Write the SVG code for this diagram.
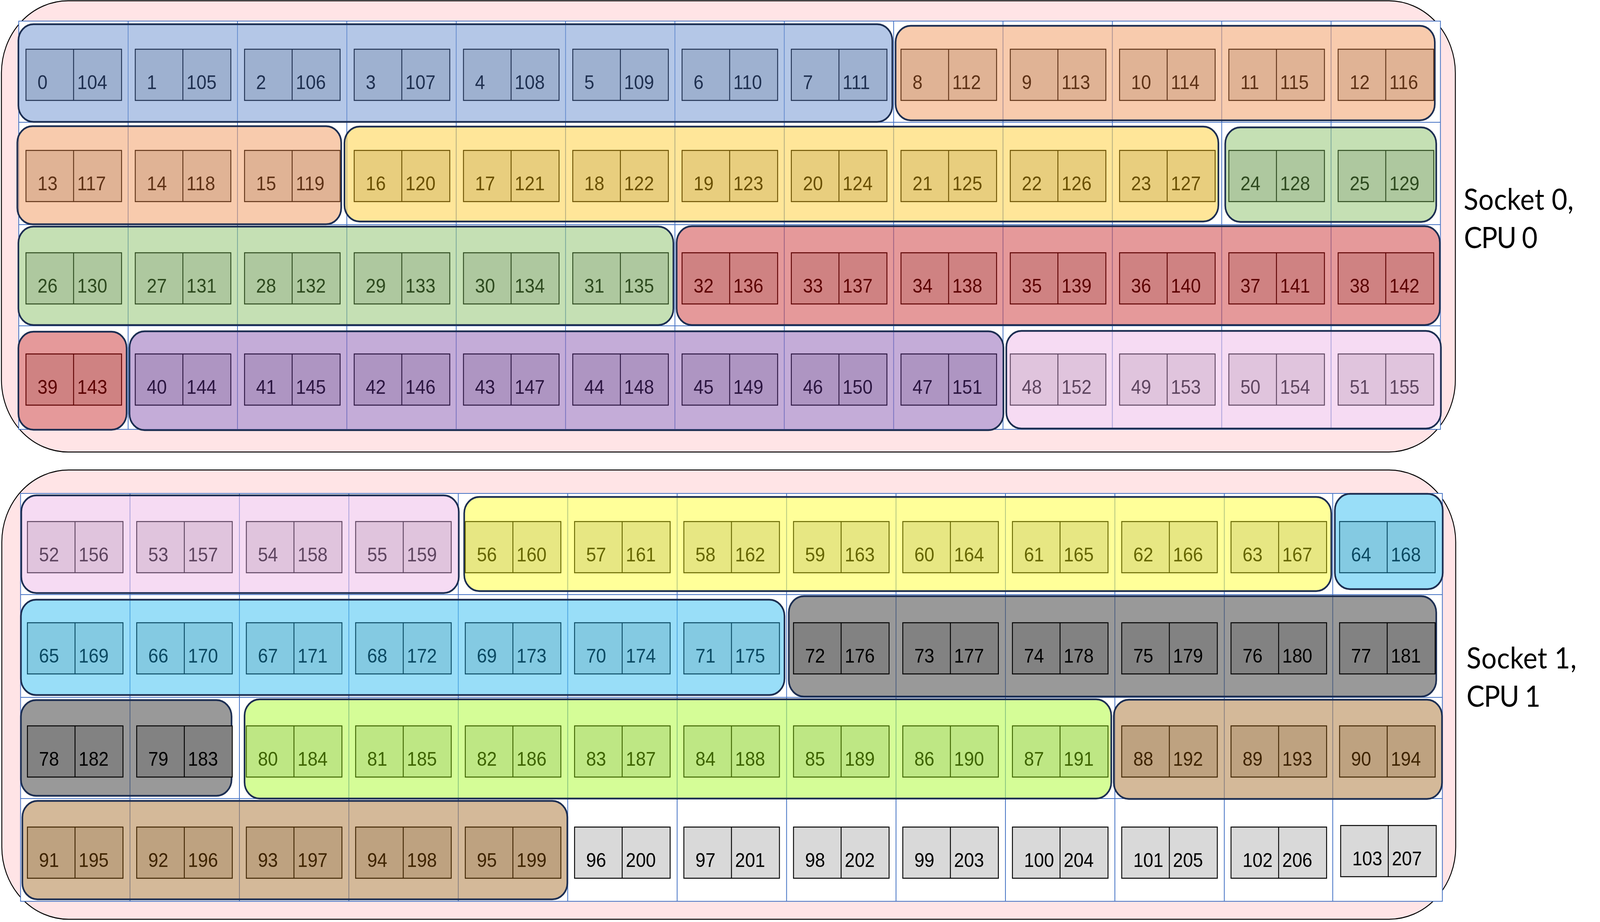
<svg xmlns="http://www.w3.org/2000/svg" xmlns:xlink="http://www.w3.org/1999/xlink" width="4436" height="2360" viewBox="0 0 4436 2360">
<defs>
<g id="bx"><rect width="265" height="131"/><path d="M132 0V131"/></g>
<style>
.sock{fill:#FFE4E6;stroke:#000;stroke-width:2.5}
.tbl{fill:#fff;stroke:none}
.grid{fill:none;stroke:#4472C4;stroke-width:2.2}
.grp{fill-opacity:0.6;stroke:#1C2E52;stroke-width:4.5}
.core use{stroke-width:2.5}
.core text{font-family:"Liberation Sans",Arial,sans-serif;font-size:50px;stroke:none}
.lbl{font-family:Lato,"Open Sans",sans-serif;font-size:75px;fill:#000}
.k-blue .grp{fill:#82A2D7}.k-blue use{fill:#9EB1D0;stroke:#1F3050}.k-blue text{fill:#1F3050}
.k-orange .grp{fill:#F3A876}.k-orange use{fill:#E0B395;stroke:#5E3216}.k-orange text{fill:#5E3216}
.k-yellow .grp{fill:#FFD555}.k-yellow use{fill:#E8CE7E;stroke:#6A5000}.k-yellow text{fill:#6A5000}
.k-green .grp{fill:#9ECB82}.k-green use{fill:#AEC89F;stroke:#2E4A1F}.k-green text{fill:#2E4A1F}
.k-red .grp{fill:#D45557}.k-red use{fill:#CF8282;stroke:#5C0000}.k-red text{fill:#5C0000}
.k-purple .grp{fill:#9D75BE}.k-purple use{fill:#AE95C2;stroke:#2B1540}.k-purple text{fill:#2B1540}
.k-pink .grp{fill:#F0C3EB}.k-pink use{fill:#E0C4DD;stroke:#5E4560}.k-pink text{fill:#5E4560}
.k-yellow1 .grp{fill:#FFFF55}.k-yellow1 use{fill:#E7E783;stroke:#666600}.k-yellow1 text{fill:#666600}
.k-cyan .grp{fill:#55C8F3}.k-cyan use{fill:#84CAE2;stroke:#0B4A63}.k-cyan text{fill:#0B4A63}
.k-grey .grp{fill:#555555}.k-grey use{fill:#828282;stroke:#000}.k-grey text{fill:#000}
.k-lgreen .grp{fill:#B9FC52}.k-lgreen use{fill:#BEE784;stroke:#3E6400}.k-lgreen text{fill:#3E6400}
.k-tan .grp{fill:#B78A55}.k-tan use{fill:#BEA280;stroke:#3F2400}.k-tan text{fill:#3F2400}
.k-white use{fill:#D9D9D9;stroke:#000}.k-white text{fill:#000}
</style>
</defs>
<rect width="4436" height="2360" fill="#fff"/>
<g id="diagram" transform="scale(0.92335 1)">
<g id="socket-0">
<rect class="sock" x="4" y="2" width="4031" height="1155" rx="185"/>
<rect class="tbl" x="52" y="54" width="3941.6" height="1045"/>
<path class="grid" d="M52 54H3993.6V1099H52Z M355.2 54V1099 M658.4 54V1099 M961.6 54V1099 M1264.8 54V1099 M1568 54V1099 M1871.2 54V1099 M2174.4 54V1099 M2477.6 54V1099 M2780.8 54V1099 M3084 54V1099 M3387.2 54V1099 M3690.4 54V1099 M52 313H3993.6 M52 575H3993.6 M52 834H3993.6"/>
<text class="lbl" x="4058" y="537" textLength="305">Socket 0,</text>
<text class="lbl" x="4059" y="635" textLength="204">CPU 0</text>
</g>
<g id="socket-1">
<rect class="sock" x="5" y="1203" width="4031" height="1150" rx="185"/>
<rect class="tbl" x="57" y="1263" width="3942" height="1044"/>
<path class="grid" d="M57 1263H3999V2307H57Z M360.4 1263V2307 M663.8 1263V2307 M967.2 1263V2307 M1270.6 1263V2307 M1574 1263V2307 M1877.4 1263V2307 M2180.8 1263V2307 M2484.2 1263V2307 M2787.6 1263V2307 M3091 1263V2307 M3394.4 1263V2307 M3695 1263V2307 M57 1522H3999 M57 1785H3999 M57 2044H3999"/>
<text class="lbl" x="4066" y="1711" textLength="305">Socket 1,</text>
<text class="lbl" x="4066" y="1809" textLength="205">CPU 1</text>
</g>
<g id="connectors"/>

<g id="group-0-7" class="k-blue">
<rect class="grp" x="51" y="62" width="2423" height="250" rx="42"/>
<g id="core-0" class="core" transform="translate(72 126)"><use href="#bx"/><text x="32" y="102">0</text><text x="142" y="102">104</text></g>
<g id="core-1" class="core" transform="translate(375 126)"><use href="#bx"/><text x="32" y="102">1</text><text x="142" y="102">105</text></g>
<g id="core-2" class="core" transform="translate(678 126)"><use href="#bx"/><text x="32" y="102">2</text><text x="142" y="102">106</text></g>
<g id="core-3" class="core" transform="translate(982 126)"><use href="#bx"/><text x="32" y="102">3</text><text x="142" y="102">107</text></g>
<g id="core-4" class="core" transform="translate(1285 126)"><use href="#bx"/><text x="32" y="102">4</text><text x="142" y="102">108</text></g>
<g id="core-5" class="core" transform="translate(1588 126)"><use href="#bx"/><text x="32" y="102">5</text><text x="142" y="102">109</text></g>
<g id="core-6" class="core" transform="translate(1891 126)"><use href="#bx"/><text x="32" y="102">6</text><text x="142" y="102">110</text></g>
<g id="core-7" class="core" transform="translate(2194 126)"><use href="#bx"/><text x="32" y="102">7</text><text x="142" y="102">111</text></g>
</g>
<g id="group-8-12" class="k-orange">
<rect class="grp" x="2483" y="66" width="1495" height="242" rx="42"/>
<g id="core-8" class="core" transform="translate(2498 126)"><use href="#bx"/><text x="32" y="102">8</text><text x="142" y="102">112</text></g>
<g id="core-9" class="core" transform="translate(2801 126)"><use href="#bx"/><text x="32" y="102">9</text><text x="142" y="102">113</text></g>
<g id="core-10" class="core" transform="translate(3104 126)"><use href="#bx"/><text x="32" y="102">10</text><text x="142" y="102">114</text></g>
<g id="core-11" class="core" transform="translate(3407 126)"><use href="#bx"/><text x="32" y="102">11</text><text x="142" y="102">115</text></g>
<g id="core-12" class="core" transform="translate(3710 126)"><use href="#bx"/><text x="32" y="102">12</text><text x="142" y="102">116</text></g>
</g>
<g id="group-13-15" class="k-orange">
<rect class="grp" x="48" y="323" width="898" height="251" rx="42"/>
<g id="core-13" class="core" transform="translate(72 385)"><use href="#bx"/><text x="32" y="102">13</text><text x="142" y="102">117</text></g>
<g id="core-14" class="core" transform="translate(375 385)"><use href="#bx"/><text x="32" y="102">14</text><text x="142" y="102">118</text></g>
<g id="core-15" class="core" transform="translate(678 385)"><use href="#bx"/><text x="32" y="102">15</text><text x="142" y="102">119</text></g>
</g>
<g id="group-16-23" class="k-yellow">
<rect class="grp" x="955" y="324" width="2423" height="243" rx="42"/>
<g id="core-16" class="core" transform="translate(982 385)"><use href="#bx"/><text x="32" y="102">16</text><text x="142" y="102">120</text></g>
<g id="core-17" class="core" transform="translate(1285 385)"><use href="#bx"/><text x="32" y="102">17</text><text x="142" y="102">121</text></g>
<g id="core-18" class="core" transform="translate(1588 385)"><use href="#bx"/><text x="32" y="102">18</text><text x="142" y="102">122</text></g>
<g id="core-19" class="core" transform="translate(1891 385)"><use href="#bx"/><text x="32" y="102">19</text><text x="142" y="102">123</text></g>
<g id="core-20" class="core" transform="translate(2194 385)"><use href="#bx"/><text x="32" y="102">20</text><text x="142" y="102">124</text></g>
<g id="core-21" class="core" transform="translate(2498 385)"><use href="#bx"/><text x="32" y="102">21</text><text x="142" y="102">125</text></g>
<g id="core-22" class="core" transform="translate(2801 385)"><use href="#bx"/><text x="32" y="102">22</text><text x="142" y="102">126</text></g>
<g id="core-23" class="core" transform="translate(3104 385)"><use href="#bx"/><text x="32" y="102">23</text><text x="142" y="102">127</text></g>
</g>
<g id="group-24-25" class="k-green">
<rect class="grp" x="3397" y="326" width="585" height="242" rx="42"/>
<g id="core-24" class="core" transform="translate(3407 385)"><use href="#bx"/><text x="32" y="102">24</text><text x="142" y="102">128</text></g>
<g id="core-25" class="core" transform="translate(3710 385)"><use href="#bx"/><text x="32" y="102">25</text><text x="142" y="102">129</text></g>
</g>
<g id="group-26-31" class="k-green">
<rect class="grp" x="51" y="580" width="1816" height="252" rx="42"/>
<g id="core-26" class="core" transform="translate(72 647)"><use href="#bx"/><text x="32" y="102">26</text><text x="142" y="102">130</text></g>
<g id="core-27" class="core" transform="translate(375 647)"><use href="#bx"/><text x="32" y="102">27</text><text x="142" y="102">131</text></g>
<g id="core-28" class="core" transform="translate(678 647)"><use href="#bx"/><text x="32" y="102">28</text><text x="142" y="102">132</text></g>
<g id="core-29" class="core" transform="translate(982 647)"><use href="#bx"/><text x="32" y="102">29</text><text x="142" y="102">133</text></g>
<g id="core-30" class="core" transform="translate(1285 647)"><use href="#bx"/><text x="32" y="102">30</text><text x="142" y="102">134</text></g>
<g id="core-31" class="core" transform="translate(1588 647)"><use href="#bx"/><text x="32" y="102">31</text><text x="142" y="102">135</text></g>
</g>
<g id="group-32-38" class="k-red">
<rect class="grp" x="1876" y="579" width="2116" height="253" rx="42"/>
<g id="core-32" class="core" transform="translate(1891 647)"><use href="#bx"/><text x="32" y="102">32</text><text x="142" y="102">136</text></g>
<g id="core-33" class="core" transform="translate(2194 647)"><use href="#bx"/><text x="32" y="102">33</text><text x="142" y="102">137</text></g>
<g id="core-34" class="core" transform="translate(2498 647)"><use href="#bx"/><text x="32" y="102">34</text><text x="142" y="102">138</text></g>
<g id="core-35" class="core" transform="translate(2801 647)"><use href="#bx"/><text x="32" y="102">35</text><text x="142" y="102">139</text></g>
<g id="core-36" class="core" transform="translate(3104 647)"><use href="#bx"/><text x="32" y="102">36</text><text x="142" y="102">140</text></g>
<g id="core-37" class="core" transform="translate(3407 647)"><use href="#bx"/><text x="32" y="102">37</text><text x="142" y="102">141</text></g>
<g id="core-38" class="core" transform="translate(3710 647)"><use href="#bx"/><text x="32" y="102">38</text><text x="142" y="102">142</text></g>
</g>
<g id="group-39" class="k-red">
<rect class="grp" x="51" y="849" width="300" height="251" rx="42"/>
<g id="core-39" class="core" transform="translate(72 906)"><use href="#bx"/><text x="32" y="102">39</text><text x="142" y="102">143</text></g>
</g>
<g id="group-40-47" class="k-purple">
<rect class="grp" x="359" y="848" width="2423" height="253" rx="42"/>
<g id="core-40" class="core" transform="translate(375 906)"><use href="#bx"/><text x="32" y="102">40</text><text x="142" y="102">144</text></g>
<g id="core-41" class="core" transform="translate(678 906)"><use href="#bx"/><text x="32" y="102">41</text><text x="142" y="102">145</text></g>
<g id="core-42" class="core" transform="translate(982 906)"><use href="#bx"/><text x="32" y="102">42</text><text x="142" y="102">146</text></g>
<g id="core-43" class="core" transform="translate(1285 906)"><use href="#bx"/><text x="32" y="102">43</text><text x="142" y="102">147</text></g>
<g id="core-44" class="core" transform="translate(1588 906)"><use href="#bx"/><text x="32" y="102">44</text><text x="142" y="102">148</text></g>
<g id="core-45" class="core" transform="translate(1891 906)"><use href="#bx"/><text x="32" y="102">45</text><text x="142" y="102">149</text></g>
<g id="core-46" class="core" transform="translate(2194 906)"><use href="#bx"/><text x="32" y="102">46</text><text x="142" y="102">150</text></g>
<g id="core-47" class="core" transform="translate(2498 906)"><use href="#bx"/><text x="32" y="102">47</text><text x="142" y="102">151</text></g>
</g>
<g id="group-48-51" class="k-pink">
<rect class="grp" x="2790" y="847" width="1205" height="250" rx="42"/>
<g id="core-48" class="core" transform="translate(2801 906)"><use href="#bx"/><text x="32" y="102">48</text><text x="142" y="102">152</text></g>
<g id="core-49" class="core" transform="translate(3104 906)"><use href="#bx"/><text x="32" y="102">49</text><text x="142" y="102">153</text></g>
<g id="core-50" class="core" transform="translate(3407 906)"><use href="#bx"/><text x="32" y="102">50</text><text x="142" y="102">154</text></g>
<g id="core-51" class="core" transform="translate(3710 906)"><use href="#bx"/><text x="32" y="102">51</text><text x="142" y="102">155</text></g>
</g>

<g id="group-52-55" class="k-pink">
<rect class="grp" x="59" y="1268" width="1213" height="250" rx="42"/>
<g id="core-52" class="core" transform="translate(76 1335)"><use href="#bx"/><text x="32" y="102">52</text><text x="142" y="102">156</text></g>
<g id="core-53" class="core" transform="translate(379 1335)"><use href="#bx"/><text x="32" y="102">53</text><text x="142" y="102">157</text></g>
<g id="core-54" class="core" transform="translate(683 1335)"><use href="#bx"/><text x="32" y="102">54</text><text x="142" y="102">158</text></g>
<g id="core-55" class="core" transform="translate(986 1335)"><use href="#bx"/><text x="32" y="102">55</text><text x="142" y="102">159</text></g>
</g>
<g id="group-56-63" class="k-yellow1">
<rect class="grp" x="1287" y="1272" width="2404" height="241" rx="42"/>
<g id="core-56" class="core" transform="translate(1290 1335)"><use href="#bx"/><text x="32" y="102">56</text><text x="142" y="102">160</text></g>
<g id="core-57" class="core" transform="translate(1593 1335)"><use href="#bx"/><text x="32" y="102">57</text><text x="142" y="102">161</text></g>
<g id="core-58" class="core" transform="translate(1896 1335)"><use href="#bx"/><text x="32" y="102">58</text><text x="142" y="102">162</text></g>
<g id="core-59" class="core" transform="translate(2200 1335)"><use href="#bx"/><text x="32" y="102">59</text><text x="142" y="102">163</text></g>
<g id="core-60" class="core" transform="translate(2503 1335)"><use href="#bx"/><text x="32" y="102">60</text><text x="142" y="102">164</text></g>
<g id="core-61" class="core" transform="translate(2807 1335)"><use href="#bx"/><text x="32" y="102">61</text><text x="142" y="102">165</text></g>
<g id="core-62" class="core" transform="translate(3110 1335)"><use href="#bx"/><text x="32" y="102">62</text><text x="142" y="102">166</text></g>
<g id="core-63" class="core" transform="translate(3413 1335)"><use href="#bx"/><text x="32" y="102">63</text><text x="142" y="102">167</text></g>
</g>
<g id="group-64" class="k-cyan">
<rect class="grp" x="3701" y="1264" width="299" height="244" rx="42"/>
<g id="core-64" class="core" transform="translate(3714 1335)"><use href="#bx"/><text x="32" y="102">64</text><text x="142" y="102">168</text></g>
</g>
<g id="group-65-71" class="k-cyan">
<rect class="grp" x="58" y="1535" width="2117" height="244" rx="42"/>
<g id="core-65" class="core" transform="translate(76 1594)"><use href="#bx"/><text x="32" y="102">65</text><text x="142" y="102">169</text></g>
<g id="core-66" class="core" transform="translate(379 1594)"><use href="#bx"/><text x="32" y="102">66</text><text x="142" y="102">170</text></g>
<g id="core-67" class="core" transform="translate(683 1594)"><use href="#bx"/><text x="32" y="102">67</text><text x="142" y="102">171</text></g>
<g id="core-68" class="core" transform="translate(986 1594)"><use href="#bx"/><text x="32" y="102">68</text><text x="142" y="102">172</text></g>
<g id="core-69" class="core" transform="translate(1290 1594)"><use href="#bx"/><text x="32" y="102">69</text><text x="142" y="102">173</text></g>
<g id="core-70" class="core" transform="translate(1593 1594)"><use href="#bx"/><text x="32" y="102">70</text><text x="142" y="102">174</text></g>
<g id="core-71" class="core" transform="translate(1896 1594)"><use href="#bx"/><text x="32" y="102">71</text><text x="142" y="102">175</text></g>
</g>
<g id="group-72-77" class="k-grey">
<rect class="grp" x="2187" y="1526" width="1795" height="257" rx="42"/>
<g id="core-72" class="core" transform="translate(2200 1594)"><use href="#bx"/><text x="32" y="102">72</text><text x="142" y="102">176</text></g>
<g id="core-73" class="core" transform="translate(2503 1594)"><use href="#bx"/><text x="32" y="102">73</text><text x="142" y="102">177</text></g>
<g id="core-74" class="core" transform="translate(2807 1594)"><use href="#bx"/><text x="32" y="102">74</text><text x="142" y="102">178</text></g>
<g id="core-75" class="core" transform="translate(3110 1594)"><use href="#bx"/><text x="32" y="102">75</text><text x="142" y="102">179</text></g>
<g id="core-76" class="core" transform="translate(3413 1594)"><use href="#bx"/><text x="32" y="102">76</text><text x="142" y="102">180</text></g>
<g id="core-77" class="core" transform="translate(3714 1594)"><use href="#bx"/><text x="32" y="102">77</text><text x="142" y="102">181</text></g>
</g>
<g id="group-78-79" class="k-grey">
<rect class="grp" x="58" y="1792" width="584" height="245" rx="42"/>
<g id="core-78" class="core" transform="translate(76 1858)"><use href="#bx"/><text x="32" y="102">78</text><text x="142" y="102">182</text></g>
<g id="core-79" class="core" transform="translate(379 1858)"><use href="#bx"/><text x="32" y="102">79</text><text x="142" y="102">183</text></g>
</g>
<g id="group-80-87" class="k-lgreen">
<rect class="grp" x="678" y="1790" width="2403" height="254" rx="42"/>
<g id="core-80" class="core" transform="translate(683 1858)"><use href="#bx"/><text x="32" y="102">80</text><text x="142" y="102">184</text></g>
<g id="core-81" class="core" transform="translate(986 1858)"><use href="#bx"/><text x="32" y="102">81</text><text x="142" y="102">185</text></g>
<g id="core-82" class="core" transform="translate(1290 1858)"><use href="#bx"/><text x="32" y="102">82</text><text x="142" y="102">186</text></g>
<g id="core-83" class="core" transform="translate(1593 1858)"><use href="#bx"/><text x="32" y="102">83</text><text x="142" y="102">187</text></g>
<g id="core-84" class="core" transform="translate(1896 1858)"><use href="#bx"/><text x="32" y="102">84</text><text x="142" y="102">188</text></g>
<g id="core-85" class="core" transform="translate(2200 1858)"><use href="#bx"/><text x="32" y="102">85</text><text x="142" y="102">189</text></g>
<g id="core-86" class="core" transform="translate(2503 1858)"><use href="#bx"/><text x="32" y="102">86</text><text x="142" y="102">190</text></g>
<g id="core-87" class="core" transform="translate(2807 1858)"><use href="#bx"/><text x="32" y="102">87</text><text x="142" y="102">191</text></g>
</g>
<g id="group-88-90" class="k-tan">
<rect class="grp" x="3088" y="1791" width="910" height="254" rx="42"/>
<g id="core-88" class="core" transform="translate(3110 1858)"><use href="#bx"/><text x="32" y="102">88</text><text x="142" y="102">192</text></g>
<g id="core-89" class="core" transform="translate(3413 1858)"><use href="#bx"/><text x="32" y="102">89</text><text x="142" y="102">193</text></g>
<g id="core-90" class="core" transform="translate(3714 1858)"><use href="#bx"/><text x="32" y="102">90</text><text x="142" y="102">194</text></g>
</g>
<g id="group-91-95" class="k-tan">
<rect class="grp" x="62" y="2050" width="1511" height="252" rx="42"/>
<g id="core-91" class="core" transform="translate(76 2117)"><use href="#bx"/><text x="32" y="102">91</text><text x="142" y="102">195</text></g>
<g id="core-92" class="core" transform="translate(379 2117)"><use href="#bx"/><text x="32" y="102">92</text><text x="142" y="102">196</text></g>
<g id="core-93" class="core" transform="translate(683 2117)"><use href="#bx"/><text x="32" y="102">93</text><text x="142" y="102">197</text></g>
<g id="core-94" class="core" transform="translate(986 2117)"><use href="#bx"/><text x="32" y="102">94</text><text x="142" y="102">198</text></g>
<g id="core-95" class="core" transform="translate(1290 2117)"><use href="#bx"/><text x="32" y="102">95</text><text x="142" y="102">199</text></g>
</g>
<g id="ungrouped-96-103" class="k-white">
<g id="core-96" class="core" transform="translate(1593 2117)"><use href="#bx"/><text x="32" y="102">96</text><text x="142" y="102">200</text></g>
<g id="core-97" class="core" transform="translate(1896 2117)"><use href="#bx"/><text x="32" y="102">97</text><text x="142" y="102">201</text></g>
<g id="core-98" class="core" transform="translate(2200 2117)"><use href="#bx"/><text x="32" y="102">98</text><text x="142" y="102">202</text></g>
<g id="core-99" class="core" transform="translate(2503 2117)"><use href="#bx"/><text x="32" y="102">99</text><text x="142" y="102">203</text></g>
<g id="core-100" class="core" transform="translate(2807 2117)"><use href="#bx"/><text x="32" y="102">100</text><text x="142" y="102">204</text></g>
<g id="core-101" class="core" transform="translate(3110 2117)"><use href="#bx"/><text x="32" y="102">101</text><text x="142" y="102">205</text></g>
<g id="core-102" class="core" transform="translate(3413 2117)"><use href="#bx"/><text x="32" y="102">102</text><text x="142" y="102">206</text></g>
<g id="core-103" class="core" transform="translate(3717 2113)"><use href="#bx"/><text x="32" y="102">103</text><text x="142" y="102">207</text></g>
</g>
</g>
</svg>
